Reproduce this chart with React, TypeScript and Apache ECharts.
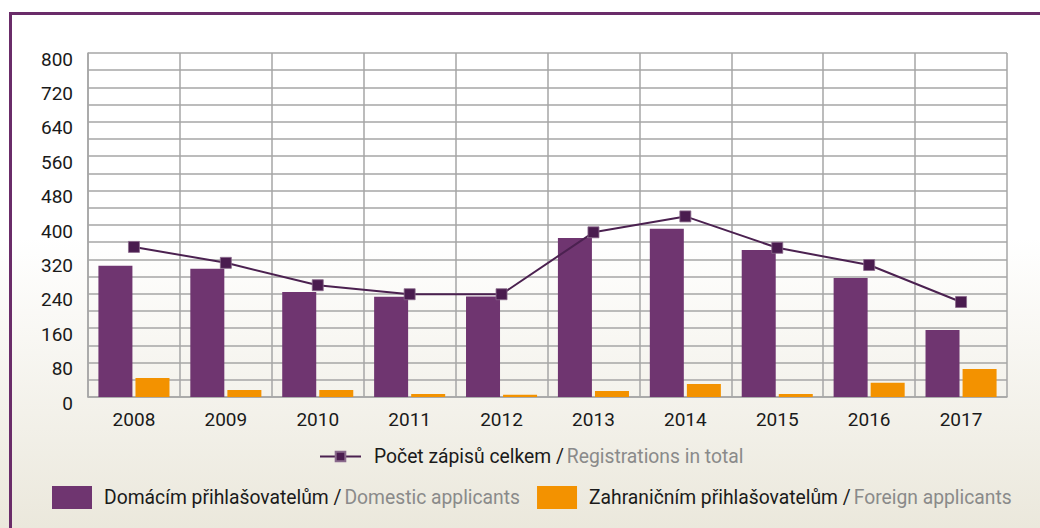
import React, { useEffect, useRef } from "react";
import * as echarts from "echarts";

const years = ["2008", "2009", "2010", "2011", "2012", "2013", "2014", "2015", "2016", "2017"];
const domestic = [305, 298, 244, 233, 234, 370, 391, 342, 277, 156];
const foreign = [44, 16, 16, 7, 5, 14, 30, 7, 33, 65];
const total = [349, 312, 260, 239, 239, 383, 420, 347, 307, 221];

const nameTotal = "Počet zápisů celkem";
const nameDomestic = "Domácím přihlašovatelům";
const nameForeign = "Zahraničním přihlašovatelům";
const english: Record<string, string> = {
  [nameTotal]: "Registrations in total",
  [nameDomestic]: "Domestic applicants",
  [nameForeign]: "Foreign applicants",
};

const FONT = "Roboto, 'Open Sans', sans-serif";

export default function App() {
  const ref = useRef<HTMLDivElement>(null);
  useEffect(() => {
    document.body.style.margin = "0";
    const chart = echarts.init(ref.current!, null, { renderer: "svg" });
    const rich = {
      cz: { color: "#1a1a1a", fontSize: 19.3, fontFamily: FONT },
      en: { color: "#8a8a8a", fontSize: 19.3, fontFamily: FONT },
    };
    const fmt = (name: string) => `{cz|${name} /} {en|${english[name]}}`;
    chart.setOption({
      animation: false,
      backgroundColor: {
        type: "linear",
        x: 0,
        y: 0,
        x2: 0,
        y2: 1,
        colorStops: [
          { offset: 0, color: "#ffffff" },
          { offset: 0.45, color: "#ffffff" },
          { offset: 1, color: "#ebe8dc" },
        ],
      },
      textStyle: { fontFamily: FONT },
      graphic: [
        { type: "rect", shape: { x: 9, y: 12, width: 1031, height: 3 }, style: { fill: "#6a2c69" } },
        { type: "rect", shape: { x: 9, y: 12, width: 3, height: 516 }, style: { fill: "#6a2c69" } },
      ],
      grid: { left: 88, right: 33, top: 53, bottom: 131 },
      legend: [
        {
          data: [nameTotal],
          left: 319,
          top: 447,
          padding: 0,
          itemWidth: 41,
          itemHeight: 12,
          formatter: fmt,
          textStyle: { rich, padding: [0, 0, 0, 8] },
        },
        {
          data: [
            { name: nameDomestic, icon: "rect" },
            { name: nameForeign, icon: "rect" },
          ],
          left: 52,
          top: 486,
          padding: 0,
          itemWidth: 40,
          itemHeight: 23,
          itemGap: 17,
          formatter: fmt,
          textStyle: { rich, padding: [0, 0, 0, 7] },
        },
      ],
      xAxis: {
        type: "category",
        data: years,
        axisLine: { show: true, lineStyle: { color: "#a6a6a6", width: 1.5 } },
        axisTick: { show: false },
        splitLine: { show: true, lineStyle: { color: "#a6a6a6", width: 1.5 } },
        axisLabel: { color: "#1a1a1a", fontSize: 19, margin: 13, fontFamily: FONT },
      },
      yAxis: {
        type: "value",
        min: 0,
        max: 800,
        interval: 80,
        axisLine: { show: true, lineStyle: { color: "#a6a6a6", width: 1.5 } },
        axisTick: { show: false },
        splitLine: { show: true, lineStyle: { color: "#a6a6a6", width: 1.5 } },
        minorTick: { show: false, splitNumber: 2 },
        minorSplitLine: { show: true, lineStyle: { color: "#a6a6a6", width: 1.5 } },
        axisLabel: {
          margin: 15,
          formatter: (v: number) => `{a|${v}}`,
          rich: { a: { color: "#1a1a1a", fontSize: 19, fontFamily: FONT, padding: [12, 0, 0, 0] } },
        },
      },
      series: [
        {
          name: nameDomestic,
          type: "bar",
          data: domestic,
          barWidth: 34,
          barGap: "9%",
          itemStyle: { color: "#6f3570" },
        },
        {
          name: nameForeign,
          type: "bar",
          data: foreign,
          barWidth: 34,
          barGap: "9%",
          itemStyle: { color: "#f39200" },
        },
        {
          name: nameTotal,
          type: "line",
          data: total,
          symbol: "rect",
          symbolSize: 11,
          z: 5,
          lineStyle: { color: "#4b2150", width: 2 },
          itemStyle: { color: "#4a1c4f", borderColor: "#8a6a8c", borderWidth: 0.8 },
        },
      ],
    });
    return () => chart.dispose();
  }, []);
  return <div ref={ref} style={{ width: 1040, height: 528 }} />;
}
